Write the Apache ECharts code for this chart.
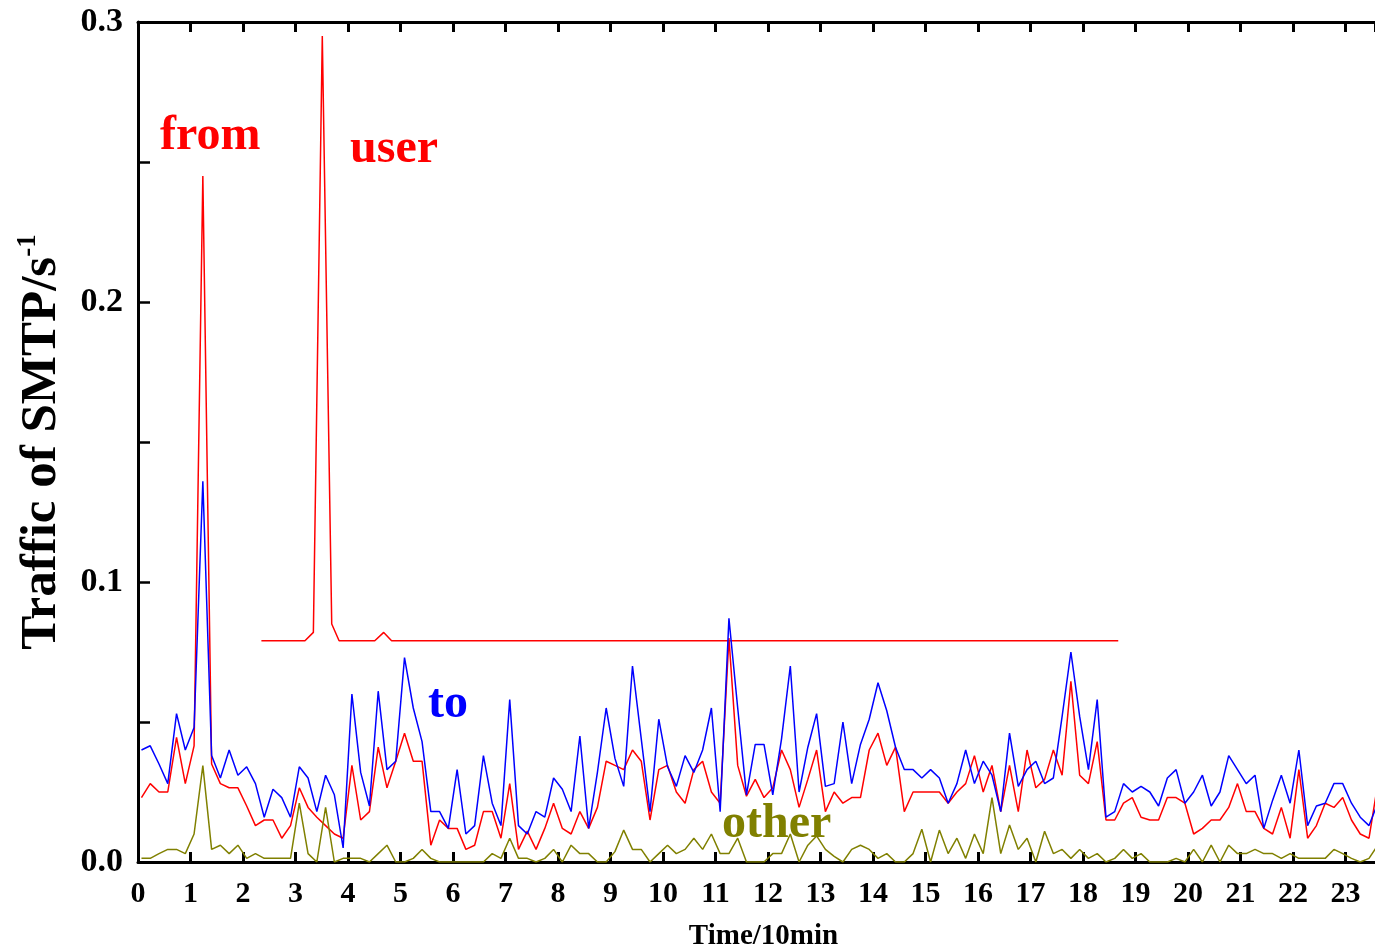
<!DOCTYPE html>
<html>
<head>
<meta charset="utf-8">
<script src="https://cdn.jsdelivr.net/npm/echarts@6/dist/echarts.min.js"></script>
<style>
  html, body { margin: 0; padding: 0; background: #fff; }
  #chart { width: 1375px; height: 948px; }
</style>
</head>
<body>
<div id="chart"></div>
<script>
// Sampling grid (Time/10min) for the from / to / other series
const T0 = 0.066;
const STEP = 0.167;

// x tick labels
const xTicks = [0,1,2,3,4,5,6,7,8,9,10,11,12,13,14,15,16,17,18,19,20,21,22,23];
// y tick labels
const yTicks = ['0.0','0.1','0.2','0.3'];

// "to" (blue)
const toVals = [
  0.040,0.0415,0.035,0.028,0.053,0.040,0.048,0.136,0.038,0.030,
  0.040,0.031,0.034,0.028,0.016,0.026,0.023,0.016,0.034,0.030,
  0.018,0.031,0.024,0.005,0.060,0.032,0.020,0.061,0.033,0.036,
  0.073,0.055,0.043,0.018,0.018,0.012,0.033,0.010,0.013,0.038,
  0.021,0.013,0.058,0.013,0.010,0.018,0.016,0.030,0.026,0.018,
  0.045,0.012,0.032,0.055,0.037,0.027,0.070,0.044,0.018,0.051,
  0.034,0.027,0.038,0.032,0.040,0.055,0.018,0.087,0.055,0.024,
  0.042,0.042,0.024,0.044,0.070,0.025,0.041,0.053,0.027,0.028,
  0.050,0.028,0.042,0.051,0.064,0.054,0.041,0.033,0.033,0.030,
  0.033,0.030,0.021,0.028,0.040,0.028,0.036,0.031,0.018,0.046,
  0.027,0.033,0.036,0.028,0.030,0.052,0.075,0.052,0.033,0.058,
  0.016,0.018,0.028,0.025,0.027,0.025,0.020,0.030,0.033,0.021,
  0.025,0.031,0.020,0.025,0.038,0.033,0.028,0.031,0.012,0.022,
  0.031,0.021,0.040,0.013,0.020,0.021,0.028,0.028,0.021,0.016,
  0.013,0.021
];

// "from" (red)
const fromVals = [
  0.023,0.028,0.025,0.025,0.0445,0.028,0.0415,0.245,0.035,0.028,
  0.0265,0.0265,0.020,0.013,0.015,0.015,0.0085,0.013,0.0265,0.0195,
  0.016,0.013,0.010,0.0085,0.0345,0.015,0.018,0.041,0.0265,0.036,
  0.046,0.036,0.036,0.006,0.015,0.012,0.012,0.0045,0.006,0.018,
  0.018,0.0085,0.028,0.0045,0.011,0.0045,0.012,0.021,0.012,0.010,
  0.018,0.012,0.0195,0.036,0.0345,0.033,0.040,0.036,0.015,0.033,
  0.0345,0.025,0.021,0.033,0.036,0.025,0.021,0.080,0.0345,0.0235,
  0.0295,0.023,0.0265,0.040,0.033,0.0195,0.0295,0.040,0.018,0.025,
  0.021,0.023,0.023,0.040,0.046,0.0345,0.041,0.018,0.025,0.025,
  0.025,0.025,0.021,0.025,0.028,0.038,0.025,0.0345,0.018,0.0345,
  0.018,0.040,0.0265,0.0295,0.040,0.031,0.0645,0.031,0.028,0.043,
  0.015,0.015,0.021,0.023,0.016,0.015,0.015,0.023,0.023,0.021,
  0.010,0.012,0.015,0.015,0.0195,0.028,0.018,0.018,0.012,0.010,
  0.0195,0.0085,0.033,0.0085,0.013,0.021,0.0195,0.023,0.015,0.010,
  0.0085,0.028
];

// "other" (olive)
const otherVals = [
  0.0013,0.0013,0.003,0.0045,0.0045,0.003,0.010,0.0344,0.0045,0.006,
  0.003,0.006,0.0013,0.003,0.0013,0.0013,0.0013,0.0013,0.021,0.003,
  0,0.0195,0,0.0013,0.0013,0.0013,0,0.003,0.006,0,
  0,0.0013,0.0045,0.0013,0,0,0,0,0,0,
  0.003,0.0013,0.0085,0.0013,0.0013,0,0.0013,0.0045,0,0.006,
  0.003,0.003,0,0,0.0037,0.0114,0.0045,0.0045,0,0.003,
  0.006,0.003,0.0045,0.0085,0.0045,0.010,0.003,0.003,0.0085,0,
  0,0,0.003,0.003,0.010,0,0.006,0.0093,0.0045,0.002,
  0,0.0045,0.006,0.0045,0.0013,0.003,0,0,0.003,0.0117,
  0,0.0114,0.003,0.0085,0.0013,0.010,0.003,0.023,0.003,0.0132,
  0.0045,0.0085,0,0.011,0.003,0.0045,0.0013,0.0045,0.0013,0.003,
  0,0.0013,0.0045,0.0013,0.003,0,0,0,0.0013,0,
  0.0045,0,0.006,0,0.006,0.003,0.003,0.0045,0.003,0.003,
  0.0013,0.003,0.0013,0.0013,0.0013,0.0013,0.0045,0.003,0.0013,0,
  0.0013,0.006
];

// "user" (red, own sampling times)
const userTimes = [2.35, 3.18, 3.34, 3.51, 3.69, 3.83, 4.51, 4.68, 4.83, 18.67];
const userVals  = [0.079, 0.079, 0.082, 0.295, 0.085, 0.079, 0.079, 0.082, 0.079, 0.079];

const FONT = '"Liberation Serif", "Times New Roman", serif';

function onGrid(vals) { return vals.map((v, i) => [T0 + i * STEP, v]); }
const userData = userTimes.map((t, i) => [t, userVals[i]]);

const chart = echarts.init(document.getElementById('chart'), null, { renderer: 'canvas' });

const commonLine = (color, data, z) => ({
  type: 'line', data: data, showSymbol: false, symbol: 'none',
  lineStyle: { color: color, width: 1.5 }, itemStyle: { color: color },
  clip: true, animation: false, z: z
});

chart.setOption({
  animation: false,
  backgroundColor: '#fff',
  grid: { left: 138, right: 0, top: 22, bottom: 86, containLabel: false, outerBoundsMode: 'none' },
  xAxis: [{
    type: 'value', min: 0, max: 23.56, interval: 1, position: 'bottom',
    axisLine: { show: true, onZero: false, lineStyle: { color: '#000', width: 3 } },
    axisTick: { show: true, inside: true, length: 10, lineStyle: { color: '#000', width: 3 } },
    splitLine: { show: false },
    axisLabel: {
      color: '#000', fontFamily: FONT, fontWeight: 'bold', fontSize: 30, margin: 17,
      showMaxLabel: false,
      formatter: v => (xTicks.indexOf(v) >= 0 ? String(v) : '')
    },
    name: 'Time/10min', nameLocation: 'middle', nameGap: 60,
    nameTextStyle: { color: '#000', fontFamily: FONT, fontWeight: 'bold', fontSize: 29, padding: [0, 0, 0, 14] }
  }, {
    type: 'value', min: 0, max: 23.56, interval: 1, position: 'top',
    axisLine: { show: true, onZero: false, lineStyle: { color: '#000', width: 3 } },
    axisTick: { show: true, inside: true, length: 10, lineStyle: { color: '#000', width: 3 } },
    axisLabel: { show: false }, splitLine: { show: false }
  }],
  yAxis: {
    type: 'value', min: 0, max: 0.3, interval: 0.1,
    axisLine: { show: true, lineStyle: { color: '#000', width: 3 } },
    axisTick: { show: true, inside: true, length: 12, lineStyle: { color: '#000', width: 2.5 } },
    minorTick: { show: true, splitNumber: 2, length: 12, lineStyle: { color: '#000', width: 2.5 } },
    splitLine: { show: false }, minorSplitLine: { show: false },
    axisLabel: {
      color: '#000', fontFamily: FONT, fontWeight: 'bold', fontSize: 34, margin: 15,
      formatter: v => yTicks[Math.round(v * 10)] || ''
    },
    name: '{a|Traffic of SMTP/s}{b|-1}', nameLocation: 'middle', nameGap: 69, nameRotate: 90,
    nameTextStyle: {
      rich: {
        a: { fontFamily: FONT, fontWeight: 'bold', fontSize: 51, color: '#000', lineHeight: 54 },
        b: { fontFamily: FONT, fontWeight: 'bold', fontSize: 27, color: '#000', verticalAlign: 'top', lineHeight: 27 }
      }
    }
  },
  series: [
    Object.assign(commonLine('#ff0000', userData, 2), { name: 'user' }),
    Object.assign(commonLine('#ff0000', onGrid(fromVals), 3), { name: 'from' }),
    Object.assign(commonLine('#0000ff', onGrid(toVals), 4), { name: 'to' }),
    Object.assign(commonLine('#808000', onGrid(otherVals), 5), { name: 'other' })
  ],
  graphic: [
    { type: 'text', x: 160, y: 137, style: { text: 'from', fill: '#ff0000', font: 'bold 48px ' + FONT, textAlign: 'left', textVerticalAlign: 'middle' } },
    { type: 'text', x: 350, y: 150, style: { text: 'user', fill: '#ff0000', font: 'bold 48px ' + FONT, textAlign: 'left', textVerticalAlign: 'middle' } },
    { type: 'text', x: 428, y: 705, style: { text: 'to', fill: '#0000ff', font: 'bold 48px ' + FONT, textAlign: 'left', textVerticalAlign: 'middle' } },
    { type: 'text', x: 722, y: 825, style: { text: 'other', fill: '#808000', font: 'bold 48px ' + FONT, textAlign: 'left', textVerticalAlign: 'middle' } }
  ]
});
</script>
</body>
</html>
